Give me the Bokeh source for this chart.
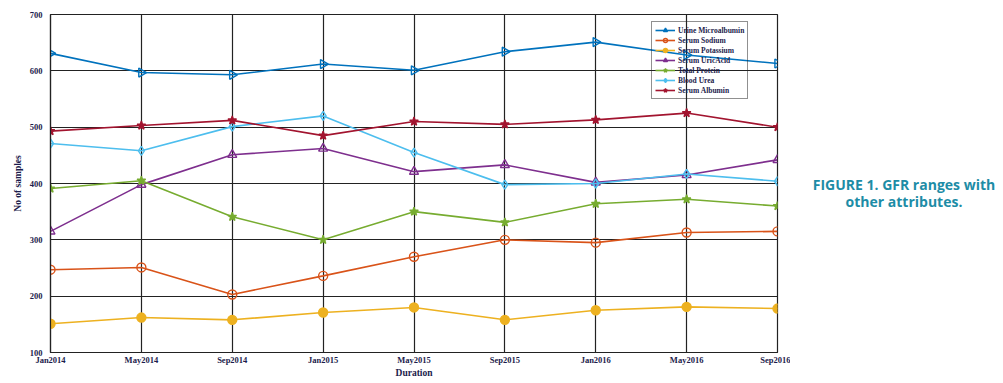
import math
from bokeh.plotting import figure
from bokeh.layouts import row
from bokeh.models import Range1d, FixedTicker, Legend, LegendItem, Div
from bokeh.embed import file_html
from bokeh.resources import INLINE

durations = ["Jan2014", "May2014", "Sep2014", "Jan2015", "May2015",
             "Sep2015", "Jan2016", "May2016", "Sep2016"]
urine_microalbumin = [631, 597, 593, 612, 601, 634, 651, 628, 613]
serum_sodium = [247, 251, 203, 236, 270, 300, 295, 313, 315]
serum_potassium = [151, 162, 158, 171, 180, 158, 175, 181, 178]
serum_uric_acid = [315, 398, 451, 462, 421, 433, 402, 415, 442]
total_protein = [391, 405, 341, 300, 350, 331, 364, 372, 360]
blood_urea = [471, 458, 501, 520, 455, 398, 400, 417, 404]
serum_albumin = [493, 503, 512, 485, 510, 505, 513, 525, 500]
y_ticks = [100, 200, 300, 400, 500, 600, 700]
caption = ["FIGURE 1. GFR ranges with", "other attributes."]

xs = list(range(len(durations)))
TXT = "#1c1c4c"
SERIF = "Liberation Serif"

p = figure(width=790, height=383, output_backend="svg", toolbar_location=None,
           x_range=Range1d(0, 8), y_range=Range1d(100, 700),
           min_border_left=50, min_border_top=14, min_border_right=13,
           min_border_bottom=31)
p.background_fill_color = "white"
p.border_fill_color = "white"
p.outline_line_color = "#222222"
p.outline_line_width = 1.2

p.xaxis.ticker = FixedTicker(ticks=xs)
p.xaxis.major_label_overrides = {i: d for i, d in enumerate(durations)}
p.yaxis.ticker = FixedTicker(ticks=y_ticks)
for ax in (p.xaxis[0], p.yaxis[0]):
    ax.major_tick_out = 0
    ax.major_tick_in = 0
    ax.minor_tick_out = 0
    ax.minor_tick_in = 0
    ax.axis_line_color = "#222222"
    ax.axis_line_width = 1.2
    ax.major_label_text_font = SERIF
    ax.major_label_text_font_style = "bold"
    ax.major_label_text_font_size = "8.5px"
    ax.major_label_text_color = TXT
    ax.axis_label_text_font = SERIF
    ax.axis_label_text_font_style = "bold"
    ax.axis_label_text_color = TXT
    ax.axis_label_text_font_size = "9.5px"
p.xaxis.axis_label = "Duration"
p.yaxis.axis_label = "No of samples"
p.xaxis.major_label_standoff = 2
p.xaxis.axis_label_standoff = 0
p.yaxis.major_label_standoff = 8
p.yaxis.axis_label_standoff = 4

p.xgrid.ticker = FixedTicker(ticks=xs)
p.ygrid.ticker = FixedTicker(ticks=y_ticks)
for g in (p.xgrid[0], p.ygrid[0]):
    g.grid_line_color = "#222222"
    g.grid_line_width = 1.2

series = [
    ("Urine Microalbumin", urine_microalbumin, "#0072BD", "triangle", -math.pi / 2, False),
    ("Serum Sodium", serum_sodium, "#D95319", "circle", 0, False),
    ("Serum Potassium", serum_potassium, "#EDB120", "circle", 0, True),
    ("Serum UricAcid", serum_uric_acid, "#7E2F8E", "triangle", 0, False),
    ("Total Protein", total_protein, "#77AC30", "star", 0, True),
    ("Blood Urea", blood_urea, "#4DBEEE", "diamond", 0, False),
    ("Serum Albumin", serum_albumin, "#A2142F", "star", 0, True),
]

items = []
for name, vals, col, mk, ang, filled in series:
    ln = p.line(xs, vals, line_color=col, line_width=1.6)
    sc = p.scatter(xs, vals, marker=mk, size=9, angle=ang, line_color=col,
                   line_width=1.4, fill_color=col if filled else "white",
                   fill_alpha=1.0 if filled else 0.0)
    items.append(LegendItem(label=name, renderers=[ln, sc]))

legend = Legend(items=items, location=(601, 253))
legend.label_text_font = SERIF
legend.label_text_font_style = "bold"
legend.label_text_font_size = "7.5px"
legend.label_text_color = TXT
legend.glyph_height = 10
legend.glyph_width = 20
legend.label_height = 10
legend.spacing = 0
legend.padding = 3
legend.margin = 0
legend.label_standoff = 3
legend.border_line_color = "#222222"
legend.border_line_width = 1.2
legend.background_fill_alpha = 0.0
p.add_layout(legend, "center")

cap = Div(text="<div style='position:relative;left:18px;width:192px;white-space:nowrap;"
               "font-family:\"Open Sans\";font-weight:bold;font-size:14px;"
               "line-height:17px;color:#1d8ca6;text-align:center;'>"
               + caption[0] + "<br>" + caption[1] + "</div>",
          width=213, height=40, margin=(176, 0, 0, 0))

layout = row(p, cap)
html = file_html(layout, INLINE)
html = html.replace("<head>", "<head><style>html,body{margin:0;padding:0;overflow:hidden;background:#fff}</style>", 1)
open("out.html", "w").write(html)
